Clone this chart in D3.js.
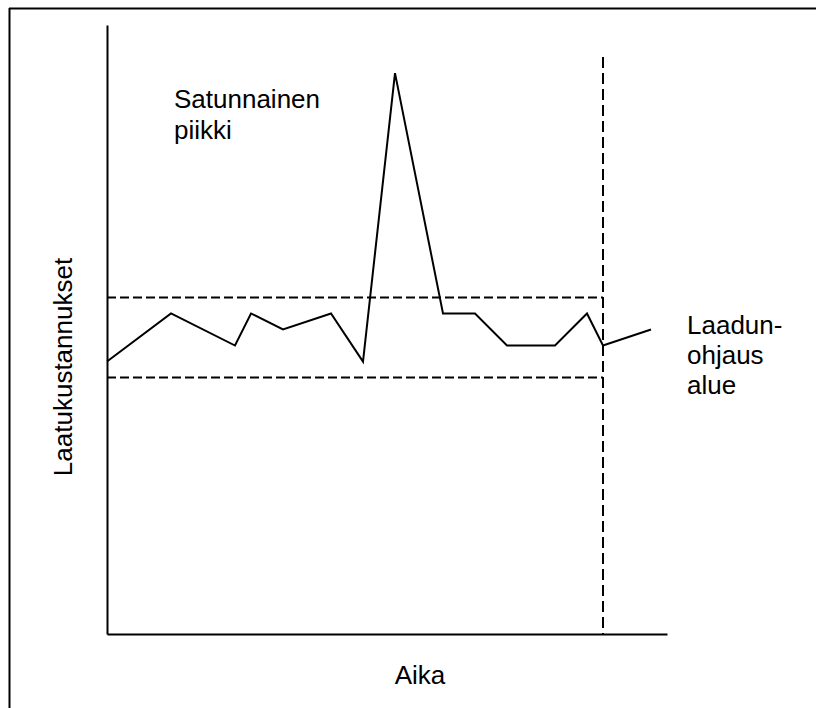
<!DOCTYPE html>
<html lang="fi">
<head>
<meta charset="UTF-8">
<title>Laatukustannukset</title>
<script src="https://cdnjs.cloudflare.com/ajax/libs/d3/7.8.5/d3.min.js"></script>
<style>
  body { margin: 0; background: #fff; }
  text { font-family: "Liberation Sans", Arial, sans-serif; font-size: 26px; fill: #000; }
  .axis path { stroke: #000; stroke-width: 2; }
</style>
</head>
<body>
<svg id="chart" width="816" height="708"></svg>
<script>
// time steps and quality cost readings
var timeSteps = [0, 4, 8, 9, 11, 14, 16, 18, 21, 23, 25, 28, 30, 31, 34];
var costs = [17, 20, 18, 20, 19, 20, 17, 35, 20, 20, 18, 18, 20, 18, 19];
// control band and its end
var upperLimit = 21;
var lowerLimit = 16;
var bandEnd = 31;
var bandTop = 36;
var xMax = 35;
var yMax = 38;

var svg = d3.select("#chart");

var x = d3.scaleLinear().domain([0, xMax]).range([107, 667]);
var y = d3.scaleLinear().domain([0, yMax]).range([634, 25]);

// page frame (top + left edges visible)
svg.append("line").attr("x1", 9).attr("x2", 816).attr("y1", 8.5).attr("y2", 8.5)
    .attr("stroke", "#000").attr("stroke-width", 2);
svg.append("line").attr("x1", 9.5).attr("x2", 9.5).attr("y1", 8).attr("y2", 708)
    .attr("stroke", "#000").attr("stroke-width", 2);

// axes without ticks
svg.append("g").attr("class", "axis")
    .attr("transform", "translate(0," + y(0) + ")")
    .call(d3.axisBottom(x).tickValues([]).tickSizeOuter(0));
svg.append("g").attr("class", "axis")
    .attr("transform", "translate(" + x(0) + ",0)")
    .call(d3.axisLeft(y).tickValues([]).tickSizeOuter(0));

// dashed control band
var dash = "9,4";
[upperLimit, lowerLimit].forEach(function (v) {
    svg.append("line")
        .attr("x1", x(0)).attr("x2", x(bandEnd))
        .attr("y1", y(v)).attr("y2", y(v))
        .attr("stroke", "#000").attr("stroke-width", 2)
        .attr("stroke-dasharray", dash);
});
svg.append("line")
    .attr("x1", x(bandEnd)).attr("x2", x(bandEnd))
    .attr("y1", y(bandTop)).attr("y2", y(0))
    .attr("stroke", "#000").attr("stroke-width", 2)
    .attr("stroke-dasharray", "11,5");

// cost line
var line = d3.line()
    .x(function (d, i) { return x(timeSteps[i]); })
    .y(function (d) { return y(d); });

svg.append("path")
    .datum(costs)
    .attr("fill", "none")
    .attr("stroke", "#000")
    .attr("stroke-width", 2)
    .attr("stroke-linejoin", "miter")
    .attr("d", line);

// labels
function block(lines, px, py, lh) {
    var t = svg.append("text").attr("x", px).attr("y", py);
    lines.forEach(function (s, i) {
        t.append("tspan").attr("x", px).attr("dy", i === 0 ? 0 : lh).text(s);
    });
}
block(["Satunnainen", "piikki"], 174, 108, 31);
block(["Laadun-", "ohjaus", "alue"], 687, 334, 30);

svg.append("text")
    .attr("text-anchor", "middle")
    .attr("x", 420).attr("y", 684)
    .text("Aika");

svg.append("text")
    .attr("text-anchor", "middle")
    .attr("transform", "translate(72,367)rotate(-90)")
    .text("Laatukustannukset");
</script>
</body>
</html>
